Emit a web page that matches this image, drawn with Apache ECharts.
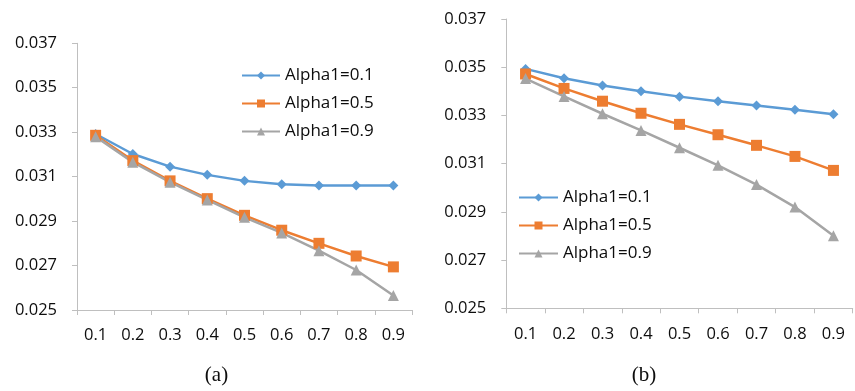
<!DOCTYPE html>
<html>
<head>
<meta charset="utf-8">
<title>Alpha1 comparison</title>
<script src="https://cdn.jsdelivr.net/npm/echarts@6/dist/echarts.min.js"></script>
<style>
  html, body { margin: 0; padding: 0; background: #fff; }
  #chart { width: 855px; height: 391px; }
</style>
</head>
<body>
<div id="chart"></div>
<script>
// x categories shared by both panels
const categories = ['0.1', '0.2', '0.3', '0.4', '0.5', '0.6', '0.7', '0.8', '0.9'];

// y axis range and step
const yMin = 0.025;
const yMax = 0.037;
const yStep = 0.002;

const seriesNames = ['Alpha1=0.1', 'Alpha1=0.5', 'Alpha1=0.9'];

// panel (a)
const a_alpha01 = [0.03292, 0.03202, 0.03145, 0.03108, 0.03081, 0.03066, 0.03060, 0.03060, 0.03060];
const a_alpha05 = [0.03286, 0.03172, 0.03081, 0.03001, 0.02926, 0.02859, 0.02800, 0.02743, 0.02694];
const a_alpha09 = [0.03280, 0.03165, 0.03075, 0.02995, 0.02917, 0.02847, 0.02767, 0.02680, 0.02565];

// panel (b)
const b_alpha01 = [0.03493, 0.03454, 0.03424, 0.03400, 0.03378, 0.03359, 0.03341, 0.03324, 0.03305];
const b_alpha05 = [0.03472, 0.03412, 0.03359, 0.03309, 0.03263, 0.03220, 0.03176, 0.03130, 0.03072];
const b_alpha09 = [0.03453, 0.03379, 0.03307, 0.03238, 0.03166, 0.03093, 0.03013, 0.02920, 0.02801];

const colors = ['#5B9BD5', '#ED7D31', '#A5A5A5'];
const symbols = ['diamond', 'rect', 'triangle'];
const symbolSizes = [10, 11, 11];

const axisFont = 'Open Sans';
const axisColor = '#BFBFBF';
const textColor = '#0d0d0d';

function xAxisFor(gridIndex) {
  return {
    type: 'category',
    gridIndex: gridIndex,
    data: categories,
    boundaryGap: true,
    axisLine: { lineStyle: { color: axisColor, width: 1 } },
    axisTick: { show: true, length: 5, lineStyle: { color: axisColor } },
    axisLabel: { color: textColor, fontFamily: axisFont, fontSize: 16.5, margin: 17 },
    splitLine: { show: false }
  };
}

function yAxisFor(gridIndex) {
  return {
    type: 'value',
    gridIndex: gridIndex,
    min: yMin,
    max: yMax,
    interval: yStep,
    axisLine: { show: true, lineStyle: { color: axisColor, width: 1 } },
    axisTick: { show: true, length: 5, lineStyle: { color: axisColor } },
    axisLabel: {
      color: textColor, fontFamily: axisFont, fontSize: 16.5, margin: 20,
      formatter: v => v.toFixed(3)
    },
    splitLine: { show: false }
  };
}

function lineSeries(idx, gridIndex, data) {
  return {
    name: seriesNames[idx],
    type: 'line',
    xAxisIndex: gridIndex,
    yAxisIndex: gridIndex,
    data: data,
    symbol: symbols[idx],
    symbolSize: symbolSizes[idx],
    showAllSymbol: true,
    lineStyle: { color: colors[idx], width: 2.5 },
    itemStyle: { color: colors[idx] },
    emphasis: { disabled: true },
    animation: false
  };
}

const legendText = { color: textColor, fontFamily: axisFont, fontSize: 17 };

const option = {
  backgroundColor: '#ffffff',
  animation: false,
  grid: [
    { left: 77, top: 43.3, width: 335, height: 266.7 },
    { left: 506.3, top: 19, width: 346.4, height: 289.3 }
  ],
  xAxis: [xAxisFor(0), xAxisFor(1)],
  yAxis: [yAxisFor(0), yAxisFor(1)],
  legend: [
    {
      orient: 'vertical', left: 236, top: 62,
      itemWidth: 38, itemHeight: 10, itemGap: 11,
      data: seriesNames, textStyle: legendText, selectedMode: false
    },
    {
      orient: 'vertical', left: 513, top: 184,
      itemWidth: 39, itemHeight: 10, itemGap: 11,
      data: seriesNames, textStyle: legendText, selectedMode: false
    }
  ],
  series: [
    lineSeries(0, 0, a_alpha01),
    lineSeries(1, 0, a_alpha05),
    lineSeries(2, 0, a_alpha09),
    lineSeries(0, 1, b_alpha01),
    lineSeries(1, 1, b_alpha05),
    lineSeries(2, 1, b_alpha09)
  ],
  graphic: [
    {
      type: 'text', x: 216.5, y: 375,
      style: { text: '(a)', fontFamily: 'Liberation Serif', fontSize: 21, fill: textColor, align: 'center', verticalAlign: 'middle' }
    },
    {
      type: 'text', x: 644, y: 375,
      style: { text: '(b)', fontFamily: 'Liberation Serif', fontSize: 21, fill: textColor, align: 'center', verticalAlign: 'middle' }
    }
  ]
};

const chart = echarts.init(document.getElementById('chart'), null, { renderer: 'canvas' });
chart.setOption(option);
</script>
</body>
</html>
